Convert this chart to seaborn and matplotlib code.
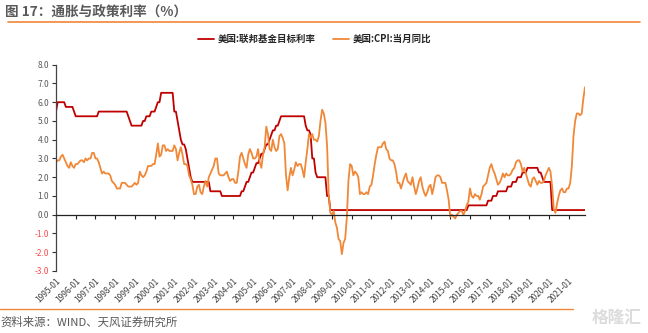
import numpy as np
import pandas as pd
import matplotlib
matplotlib.use("Agg")
import matplotlib.pyplot as plt
import seaborn as sns
from matplotlib.lines import Line2D

sns.set_theme(style="white")
plt.rcParams['font.family'] = ['Noto Sans CJK SC', 'DejaVu Sans']
plt.rcParams['axes.unicode_minus'] = False

start_month = "1995-01"
end_month = "2021-11"

fed_rate = (
    [5.5, 6, 6, 6, 6, 6, 5.75, 5.75, 5.75, 5.75, 5.75, 5.5]            # 1995
    + [5.25] * 12                                                      # 1996
    + [5.25, 5.25] + [5.5] * 10                                        # 1997
    + [5.5] * 8 + [5.25, 5.0, 4.75, 4.75]                              # 1998
    + [4.75] * 5 + [5.0, 5.0, 5.25, 5.25, 5.25, 5.5, 5.5]              # 1999
    + [5.5, 5.75, 6.0, 6.0] + [6.5] * 8                                # 2000
    + [5.5, 5.5, 5.0, 4.5, 4.0, 3.75, 3.75, 3.5, 3.0, 2.5, 2.0, 1.75]  # 2001
    + [1.75] * 10 + [1.25, 1.25]                                       # 2002
    + [1.25] * 5 + [1.0] * 7                                           # 2003
    + [1.0] * 5 + [1.25, 1.25, 1.5, 1.75, 1.75, 2.0, 2.25]             # 2004
    + [2.25, 2.5, 2.75, 2.75, 3.0, 3.25, 3.25, 3.5, 3.75, 3.75, 4.0, 4.25]  # 2005
    + [4.5, 4.5, 4.75, 4.75, 5.0] + [5.25] * 7                         # 2006
    + [5.25] * 8 + [4.75, 4.5, 4.5, 4.25]                              # 2007
    + [3.0, 3.0, 2.25] + [2.0] * 6 + [1.0, 1.0, 0.25]                  # 2008
    + [0.25] * 12 * 6                                                  # 2009-2014
    + [0.25] * 11 + [0.5]                                              # 2015
    + [0.5] * 11 + [0.75]                                              # 2016
    + [0.75, 0.75, 1.0, 1.0, 1.0] + [1.25] * 6 + [1.5]                 # 2017
    + [1.5, 1.5, 1.75, 1.75, 1.75, 2.0, 2.0, 2.0, 2.25, 2.25, 2.25, 2.5]  # 2018
    + [2.5] * 6 + [2.25, 2.25, 2.0, 1.75, 1.75, 1.75]                  # 2019
    + [1.75, 1.75] + [0.25] * 10                                       # 2020
    + [0.25] * 11                                                      # 2021
)

cpi_yoy = (
    [2.8, 2.9, 2.9, 3.1, 3.2, 3.0, 2.8, 2.6, 2.5, 2.8, 2.6, 2.5]
    + [2.7, 2.7, 2.8, 2.9, 2.9, 2.8, 3.0, 2.9, 3.0, 3.0, 3.3, 3.3]
    + [3.0, 3.0, 2.8, 2.5, 2.2, 2.3, 2.2, 2.2, 2.2, 2.1, 1.8, 1.7]
    + [1.6, 1.4, 1.4, 1.4, 1.7, 1.7, 1.7, 1.6, 1.5, 1.5, 1.5, 1.6]
    + [1.7, 1.6, 1.7, 2.3, 2.1, 2.0, 2.1, 2.3, 2.6, 2.6, 2.6, 2.7]
    + [2.7, 3.2, 3.8, 3.1, 3.2, 3.7, 3.7, 3.4, 3.5, 3.4, 3.4, 3.4]
    + [3.7, 3.5, 2.9, 3.3, 3.6, 3.2, 2.7, 2.7, 2.6, 2.1, 1.9, 1.6]
    + [1.1, 1.1, 1.5, 1.6, 1.2, 1.1, 1.5, 1.8, 1.5, 2.0, 2.2, 2.4]
    + [2.6, 3.0, 3.0, 2.2, 2.1, 2.1, 2.1, 2.2, 2.3, 2.0, 1.8, 1.9]
    + [1.9, 1.7, 1.7, 2.3, 3.1, 3.3, 3.0, 2.7, 2.5, 3.2, 3.5, 3.3]
    + [3.0, 3.0, 3.1, 3.5, 2.8, 2.5, 3.2, 3.6, 4.7, 4.3, 3.5, 3.4]
    + [4.0, 3.6, 3.4, 3.5, 4.2, 4.3, 4.1, 3.8, 2.1, 1.3, 2.0, 2.5]
    + [2.1, 2.4, 2.8, 2.6, 2.7, 2.7, 2.4, 2.0, 2.8, 3.5, 4.3, 4.1]
    + [4.3, 4.0, 4.0, 3.9, 4.2, 5.0, 5.6, 5.4, 4.9, 3.7, 1.1, 0.1]
    + [0.0, 0.2, -0.4, -0.7, -1.3, -1.4, -2.1, -1.5, -1.3, -0.2, 1.8, 2.7]
    + [2.6, 2.1, 2.3, 2.2, 2.0, 1.1, 1.2, 1.1, 1.1, 1.2, 1.1, 1.5]
    + [1.6, 2.1, 2.7, 3.2, 3.6, 3.6, 3.6, 3.8, 3.9, 3.5, 3.4, 3.0]
    + [2.9, 2.9, 2.7, 2.3, 1.7, 1.7, 1.4, 1.7, 2.0, 2.2, 1.8, 1.7]
    + [1.6, 2.0, 1.5, 1.1, 1.4, 1.8, 2.0, 1.5, 1.2, 1.0, 1.2, 1.5]
    + [1.6, 1.1, 1.5, 2.0, 2.1, 2.1, 2.0, 1.7, 1.7, 1.7, 1.3, 0.8]
    + [-0.1, 0.0, -0.1, -0.2, 0.0, 0.1, 0.2, 0.2, 0.0, 0.2, 0.5, 0.7]
    + [1.4, 1.0, 0.9, 1.1, 1.0, 1.0, 0.8, 1.1, 1.5, 1.6, 1.7, 2.1]
    + [2.5, 2.7, 2.4, 2.2, 1.9, 1.6, 1.7, 1.9, 2.2, 2.0, 2.2, 2.1]
    + [2.1, 2.2, 2.4, 2.5, 2.8, 2.9, 2.9, 2.7, 2.3, 2.5, 2.2, 1.9]
    + [1.6, 1.5, 1.9, 2.0, 1.8, 1.6, 1.8, 1.7, 1.7, 1.8, 2.1, 2.3]
    + [2.5, 2.3, 1.5, 0.3, 0.1, 0.6, 1.0, 1.3, 1.4, 1.2, 1.2, 1.4]
    + [1.4, 1.7, 2.6, 4.2, 5.0, 5.4, 5.4, 5.3, 5.4, 6.2, 6.8]
)

series_names = ["美国:联邦基金目标利率", "美国:CPI:当月同比"]
series_colors = ["#C00000", "#F08838"]
y_ticks = [-3, -2, -1, 0, 1, 2, 3, 4, 5, 6, 7, 8]

months = pd.period_range(start_month, end_month, freq="M").strftime("%Y-%m")
idx = np.arange(len(months))
df = pd.DataFrame({"idx": np.concatenate([idx, idx]),
                   "value": fed_rate + cpi_yoy,
                   "series": [series_names[0]] * len(idx) + [series_names[1]] * len(idx)})

fig = plt.figure(figsize=(6.48, 3.33), dpi=100)
ax = fig.add_axes([56 / 648, 1 - 271 / 333, (585 - 56) / 648, (271 - 64.7) / 333])

sns.lineplot(data=df, x="idx", y="value", hue="series", hue_order=series_names,
             palette=series_colors, ax=ax, linewidth=1.3, legend=False)

ax.set_xlim(0, len(idx) - 1)
ax.set_ylim(-3, 8)
ax.set_xlabel("")
ax.set_ylabel("")

# y axis
ax.set_yticks(y_ticks)
ax.set_yticklabels([f"{v:.1f}" for v in y_ticks])
for lab, v in zip(ax.get_yticklabels(), y_ticks):
    lab.set_color("#FF4B4B" if v < 0 else "#595959")
    lab.set_fontsize(6)
ax.tick_params(axis="y", which="both", left=True, length=3, width=0.8, color="#333333", pad=2)

for s in ["top", "right"]:
    ax.spines[s].set_visible(False)
ax.spines["left"].set_color("#444444")
ax.spines["left"].set_linewidth(0.9)
ax.spines["bottom"].set_position(("data", 0))
ax.spines["bottom"].set_color("#222222")
ax.spines["bottom"].set_linewidth(0.9)

tick_pos = idx[::12]
ax.set_xticks(tick_pos)
ax.set_xticklabels([])
ax.tick_params(axis="x", bottom=True, length=3, width=0.8, color="#222222", direction="out")

sec = ax.secondary_xaxis("bottom")
sec.set_xticks(tick_pos)
sec.set_xticklabels([months[i] for i in tick_pos], rotation=45, ha="right",
                    rotation_mode="anchor", fontsize=6, color="#404040")
sec.tick_params(length=0, pad=4)
sec.spines["bottom"].set_visible(False)

# legend
handles = [Line2D([0], [0], color=c, lw=1.3) for c in series_colors]
fig.legend(handles, series_names, loc="center", bbox_to_anchor=(315 / 648, 1 - 39 / 333),
           ncol=2, frameon=False, handlelength=1.7, columnspacing=1.8, handletextpad=0.4,
           prop={"size": 6.8, "weight": "bold"})

# title, separators, source
fig.text(5 / 648, 1 - 13 / 333, "图 17：通胀与政策利率（%）", fontsize=9.8, fontweight="bold",
         color="#595959", va="center", ha="left")
fig.add_artist(Line2D([8 / 648, 640 / 648], [1 - 22 / 333, 1 - 22 / 333], color="#F08838", lw=1.2))
fig.add_artist(Line2D([0, 573 / 648], [1 - 309 / 333, 1 - 309 / 333], color="#F08838", lw=1.0))
fig.text(0, 1 - 322 / 333, "资料来源：WIND、天风证券研究所", fontsize=8.2, color="#595959",
         va="center", ha="left")
fig.text(617 / 648, 1 - 318 / 333, "格隆汇", fontsize=12, color="#DCDCDC", va="center", ha="center",
         fontweight="bold")

fig.savefig("out.png", dpi=100)
